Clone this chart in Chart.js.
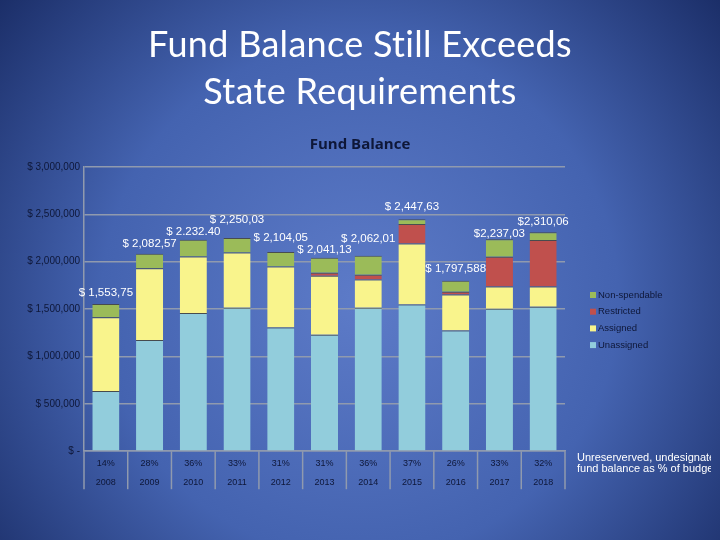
<!DOCTYPE html>
<html>
<head>
<meta charset="utf-8">
<script src="https://cdn.jsdelivr.net/npm/chart.js@4.4.1/dist/chart.umd.min.js"></script>
<style>
  html, body { margin: 0; padding: 0; background: #2a4188; }
  #wrap { width: 720px; height: 540px; }
</style>
</head>
<body>
<div id="wrap"><canvas id="fund-canvas" width="720" height="540"></canvas></div>
<script>
const years = ['2008', '2009', '2010', '2011', '2012', '2013', '2014', '2015', '2016', '2017', '2018'];
const pctOfBudget = ['14%', '28%', '36%', '33%', '31%', '31%', '36%', '37%', '26%', '33%', '32%'];

const unassigned = [636000, 1175000, 1460000, 1513000, 1305000, 1228000, 1513000, 1548000, 1273000, 1503000, 1524000];
const assigned = [779000, 757000, 596000, 584000, 644000, 624000, 300000, 645000, 380000, 236000, 215000];
const restricted = [0, 0, 0, 0, 0, 31000, 49000, 205000, 29000, 314000, 490000];
const nonSpendable = [139000, 151000, 176000, 153000, 155000, 158000, 200000, 50000, 116000, 184000, 81000];

// labels as they show on the slide (cut off by the text box)
const totalLabels = ['$ 1,553,75', '$ 2,082,57', '$ 2.232.40', '$ 2,250,03', '$ 2,104,05', '$ 2,041,13',
    '$ 2,062,01', '$ 2,447,63', '$ 1,797,588', '$2,237,03', '$2,310,06'];

const yTicks = [0, 500000, 1000000, 1500000, 2000000, 2500000, 3000000];

const gridGray = '#909aae';
const darkText = '#0e1738';

function money(v) {
    if (v === 0) return '$ -';
    return '$ ' + v.toLocaleString('en-US');
}

const slidePlugin = {
    id: 'slide',
    beforeDraw(chart) {
        const ctx = chart.ctx;
        const g = ctx.createRadialGradient(360, 300, 0, 360, 300, 470);
        g.addColorStop(0, '#5d7bc8');
        g.addColorStop(0.55, '#4463b0');
        g.addColorStop(1, '#1b2e68');
        ctx.save();
        ctx.fillStyle = g;
        ctx.fillRect(0, 0, chart.width, chart.height);
        ctx.restore();
    },
    afterDraw(chart, args, opts) {
        const ctx = chart.ctx;
        const xs = chart.scales.x;
        const area = chart.chartArea;
        ctx.save();

        // table separators under the axis
        ctx.strokeStyle = gridGray;
        ctx.lineWidth = 1.5;
        const half = (xs.getPixelForValue(1) - xs.getPixelForValue(0)) / 2;
        for (let i = 0; i <= years.length; i++) {
            const x = xs.getPixelForValue(i) - half;
            ctx.beginPath();
            ctx.moveTo(x, area.bottom);
            ctx.lineTo(x, area.bottom + 38);
            ctx.stroke();
        }

        // slide title
        ctx.fillStyle = '#ffffff';
        ctx.textAlign = 'center';
        ctx.textBaseline = 'alphabetic';
        ctx.font = '36px Lato';
        ctx.letterSpacing = '0.3px';
        ctx.fillText('Fund Balance Still Exceeds', 360, 57);
        ctx.fillText('State Requirements', 360, 104);
        ctx.letterSpacing = '0px';

        // chart title
        ctx.fillStyle = darkText;
        ctx.font = 'bold 15px "Open Sans"';
        ctx.textBaseline = 'middle';
        ctx.fillText('Fund Balance', 360, 145);

        // totals above bars
        const top = chart.getDatasetMeta(3);
        ctx.fillStyle = '#ffffff';
        ctx.font = '11.5px "Liberation Sans"';
        top.data.forEach((bar, i) => {
            ctx.fillText(totalLabels[i], bar.x, bar.y - opts.lift[i]);
        });

        // legend
        const items = chart.data.datasets.slice().reverse();
        ctx.textAlign = 'left';
        ctx.font = '9.5px "Liberation Sans"';
        items.forEach((ds, i) => {
            const y = 295 + i * 16.7;
            ctx.fillStyle = ds.backgroundColor;
            ctx.fillRect(590, y - 3, 6, 6);
            ctx.fillStyle = darkText;
            ctx.fillText(ds.label, 598, y);
        });

        // table row caption, cut at the right edge like the slide
        ctx.beginPath();
        ctx.rect(570, 445, 141, 40);
        ctx.clip();
        ctx.fillStyle = '#ffffff';
        ctx.font = '11px "Liberation Sans"';
        ctx.fillText('Unreserverved, undesignated', 577, 458);
        ctx.fillText('fund balance as % of budget', 577, 469);
        ctx.restore();
    }
};

function segment(label, data, color) {
    return {
        label: label,
        data: data,
        backgroundColor: color,
        borderColor: 'rgba(70,70,60,0.85)',
        borderWidth: {top: 1, right: 0, bottom: 0, left: 0},
        borderSkipped: false,
        barPercentage: 0.62,
        categoryPercentage: 1.0
    };
}

function setupChart() {
    const canvas = document.getElementById('fund-canvas').getContext('2d');
    new Chart(canvas, {
        type: 'bar',
        data: {
            labels: years.map((y, i) => [pctOfBudget[i], y]),
            datasets: [
                segment('Unassigned', unassigned, '#92cddc'),
                segment('Assigned', assigned, '#f9f48c'),
                segment('Restricted', restricted, '#c0504d'),
                segment('Non-spendable', nonSpendable, '#9bbb59')
            ]
        },
        options: {
            responsive: false,
            animation: false,
            layout: {
                padding: {top: 167, right: 155, bottom: 45, left: 0}
            },
            plugins: {
                legend: {display: false},
                tooltip: {enabled: false},
                slide: {lift: [11, 10, 8, 18, 14, 8, 17, 12, 12, 5, 11]}
            },
            scales: {
                x: {
                    stacked: true,
                    grid: {
                        offset: true,
                        drawOnChartArea: false,
                        drawTicks: false,
                        color: 'rgba(0,0,0,0)'
                    },
                    border: {display: true, color: gridGray, width: 1.5},
                    ticks: {
                        color: darkText,
                        padding: 3,
                        maxRotation: 0,
                        autoSkip: false,
                        font: {family: 'Liberation Sans', size: 9, lineHeight: 2.1}
                    }
                },
                y: {
                    stacked: true,
                    min: 0,
                    max: 3000000,
                    afterFit(scale) { scale.width = 84; },
                    afterBuildTicks(scale) { scale.ticks = yTicks.map(v => ({value: v})); },
                    grid: {
                        color: gridGray,
                        lineWidth: 1.5,
                        drawTicks: false
                    },
                    border: {display: true, color: gridGray, width: 1.5},
                    ticks: {
                        color: darkText,
                        padding: 4,
                        font: {family: 'Liberation Sans', size: 10},
                        callback: v => money(v)
                    }
                }
            }
        },
        plugins: [slidePlugin]
    });
}

setupChart();
</script>
</body>
</html>
